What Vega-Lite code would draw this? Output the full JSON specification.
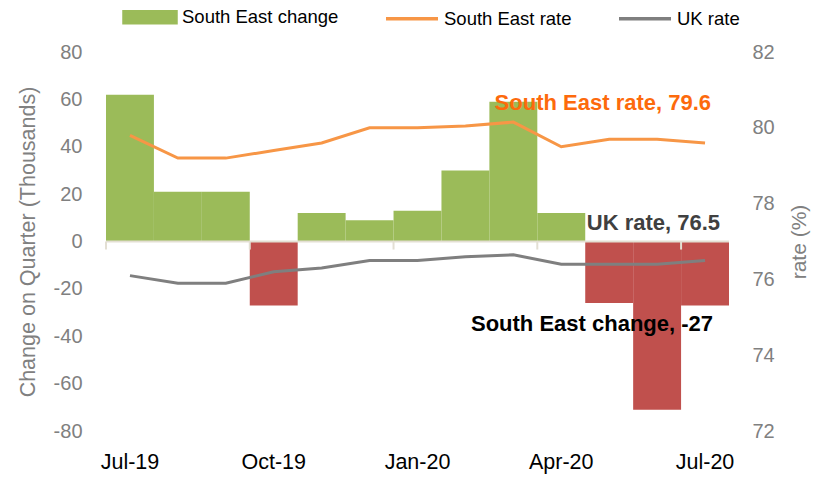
{
  "$schema": "https://vega.github.io/schema/vega-lite/v6.json",
  "width": 623,
  "height": 379,
  "autosize": {"type": "none"},
  "padding": {"left": 106, "top": 52, "right": 87, "bottom": 48},
  "config": {
    "view": {"stroke": null},
    "font": "Liberation Sans",
    "axis": {"labelFont": "Liberation Sans", "titleFont": "Liberation Sans", "grid": false},
    "legend": {"labelFont": "Liberation Sans"},
    "text": {"font": "Liberation Sans"}
  },
  "datasets": {
    "main": [
      {"month": "Jul-19", "change": 62, "se": 79.8, "uk": 76.1},
      {"month": "Aug-19", "change": 21, "se": 79.2, "uk": 75.9},
      {"month": "Sep-19", "change": 21, "se": 79.2, "uk": 75.9},
      {"month": "Oct-19", "change": -27, "se": 79.4, "uk": 76.2},
      {"month": "Nov-19", "change": 12, "se": 79.6, "uk": 76.3},
      {"month": "Dec-19", "change": 9, "se": 80.0, "uk": 76.5},
      {"month": "Jan-20", "change": 13, "se": 80.0, "uk": 76.5},
      {"month": "Feb-20", "change": 30, "se": 80.05, "uk": 76.6},
      {"month": "Mar-20", "change": 59, "se": 80.15, "uk": 76.65},
      {"month": "Apr-20", "change": 12, "se": 79.5, "uk": 76.4},
      {"month": "May-20", "change": -26, "se": 79.7, "uk": 76.4},
      {"month": "Jun-20", "change": -71, "se": 79.7, "uk": 76.4},
      {"month": "Jul-20", "change": -27, "se": 79.6, "uk": 76.5}
    ]
  },
  "layer": [
    {
      "layer": [
        {
          "data": {"name": "main"},
          "transform": [{"fold": ["change"], "as": ["series", "value"]}],
          "mark": {"type": "bar"},
          "encoding": {
            "x": {
              "field": "month", "type": "ordinal",
              "scale": {"domain": ["Jul-19","Aug-19","Sep-19","Oct-19","Nov-19","Dec-19","Jan-20","Feb-20","Mar-20","Apr-20","May-20","Jun-20","Jul-20"], "paddingInner": 0, "paddingOuter": 0},
              "axis": {"values": ["Jul-19","Oct-19","Jan-20","Apr-20","Jul-20"], "domain": false, "ticks": false, "labelPadding": 20, "labelFontSize": 21.5, "labelColor": "#000000", "labelAngle": 0, "title": null}
            },
            "y": {
              "field": "value", "type": "quantitative",
              "scale": {"domain": [-80, 80]},
              "axis": {"title": "Change on Quarter (Thousands)", "values": [-80,-60,-40,-20,0,20,40,60,80], "labelExpr": "'' + datum.value", "domain": false, "ticks": false, "labelPadding": 24, "labelFontSize": 20, "labelColor": "#808080", "titleFontSize": 21.5, "titleColor": "#808080", "titleFontWeight": "normal", "titlePadding": 14}
            },
            "color": {
              "field": "series", "type": "nominal",
              "condition": {"test": "datum.value < 0", "value": "#c0504d"},
              "scale": {"domain": ["change", "se", "uk"], "range": ["#9bbb59", "#f79646", "#7f7f7f"]},
              "legend": {
                "orient": "none", "legendX": 16, "legendY": -63, "direction": "horizontal", "title": null,
                "labelExpr": "datum.label == 'change' ? 'South East change' : datum.label == 'se' ? 'South East rate' : 'UK rate'",
                "symbolSize": 2704, "labelFontSize": 18.5, "labelColor": "#000000", "labelOffset": 4, "columnPadding": 40, "labelLimit": 400,
                "encode": {
                  "symbols": {
                    "update": {
                      "shape": {"signal": "datum.value === 'change' ? 'M-1,-0.21H1V0.21H-1Z' : 'M-1,0H1'"},
                      "fill": {"signal": "datum.value === 'change' ? '#9bbb59' : 'transparent'"},
                      "stroke": {"signal": "datum.value === 'change' ? 'transparent' : (datum.value === 'se' ? '#f79646' : '#7f7f7f')"},
                      "strokeWidth": {"value": 3.5},
                      "opacity": {"value": 1}
                    }
                  }
                }
              }
            }
          }
        },
        {
          "data": {"values": [{"v": 0}]},
          "mark": {"type": "rule", "color": "#e3dfd3", "strokeWidth": 2},
          "encoding": {"y": {"field": "v", "type": "quantitative"}}
        },
        {
          "data": {"name": "main"},
          "transform": [{"filter": {"field": "month", "oneOf": ["Jul-19","Oct-19","Jan-20","Apr-20","Jul-20"]}}],
          "mark": {"type": "rule", "color": "#e3dfd3", "strokeWidth": 2},
          "encoding": {
            "x": {"field": "month", "type": "ordinal", "bandPosition": 0},
            "y": {"datum": 0},
            "y2": {"datum": -3.4}
          }
        },
        {
          "data": {"values": [{"month": "Jul-20", "value": -27, "label": "South East change, -27"}]},
          "mark": {"type": "text", "align": "right", "baseline": "middle", "dx": 8, "dy": 19, "fontWeight": "bold", "fontSize": 22, "color": "#000000"},
          "encoding": {
            "x": {"field": "month", "type": "ordinal"},
            "y": {"field": "value", "type": "quantitative"},
            "text": {"field": "label"}
          }
        }
      ]
    },
    {
      "layer": [
        {
          "data": {"name": "main"},
          "transform": [{"fold": ["se", "uk"], "as": ["series", "rate"]}],
          "mark": {"type": "line", "strokeWidth": 3},
          "encoding": {
            "x": {"field": "month", "type": "ordinal"},
            "y": {
              "field": "rate", "type": "quantitative",
              "scale": {"domain": [72, 82]},
              "axis": {"orient": "right", "title": "rate (%)", "values": [72,74,76,78,80,82], "domain": false, "ticks": false, "labelPadding": 23, "labelFontSize": 20, "labelColor": "#808080", "titleFontSize": 21, "titleColor": "#808080", "titleFontWeight": "normal", "titlePadding": 14, "titleAngle": 270, "titleBaseline": "top"}
            },
            "color": {"field": "series", "type": "nominal"}
          }
        },
        {
          "data": {"values": [{"month": "Jul-20", "rate": 79.6, "label": "South East rate, 79.6"}]},
          "mark": {"type": "text", "align": "right", "baseline": "middle", "dx": 6, "dy": -40, "fontWeight": "bold", "fontSize": 22, "color": "#fd6a0c"},
          "encoding": {
            "x": {"field": "month", "type": "ordinal"},
            "y": {"field": "rate", "type": "quantitative"},
            "text": {"field": "label"}
          }
        },
        {
          "data": {"values": [{"month": "Jul-20", "rate": 76.5, "label": "UK rate, 76.5"}]},
          "mark": {"type": "text", "align": "right", "baseline": "middle", "dx": 15, "dy": -37, "fontWeight": "bold", "fontSize": 22, "color": "#404040"},
          "encoding": {
            "x": {"field": "month", "type": "ordinal"},
            "y": {"field": "rate", "type": "quantitative"},
            "text": {"field": "label"}
          }
        }
      ]
    }
  ],
  "resolve": {"scale": {"y": "independent"}}
}
